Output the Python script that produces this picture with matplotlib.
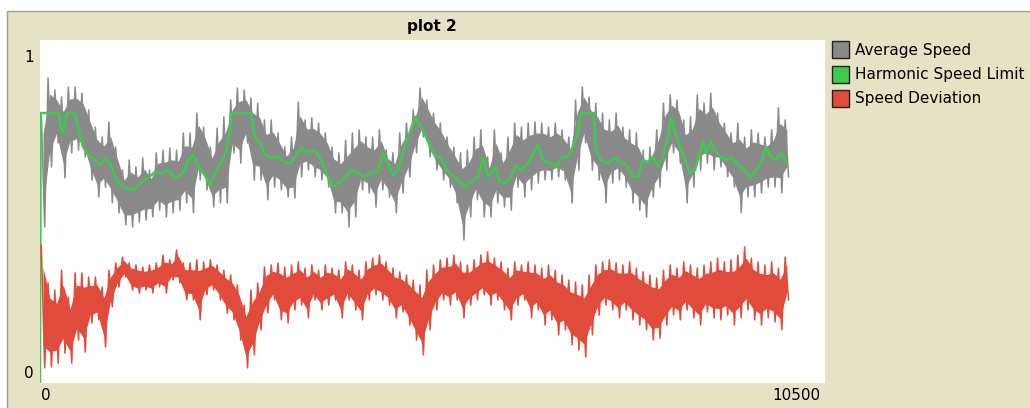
import numpy as np
import matplotlib
matplotlib.use("Agg")
import matplotlib.pyplot as plt
from matplotlib.patches import Rectangle

# Average Speed: upper / lower envelope of the noisy trace, one pair per sample bin
avg_hi = [0.787, 0.889, 0.854, 0.834, 0.863, 0.863, 0.845, 0.796, 0.746, 0.717, 0.761, 0.688, 0.621, 0.650, 0.630, 0.656, 0.621, 0.671, 0.679, 0.685, 0.679, 0.729,
          0.729, 0.787, 0.746, 0.688, 0.743, 0.776, 0.825, 0.860, 0.854, 0.831, 0.816, 0.767, 0.767, 0.729, 0.688, 0.717, 0.819, 0.767, 0.773, 0.758, 0.729, 0.688,
          0.671, 0.708, 0.729, 0.738, 0.717, 0.717, 0.738, 0.679, 0.671, 0.729, 0.758, 0.796, 0.860, 0.825, 0.787, 0.758, 0.717, 0.688, 0.671, 0.679, 0.717, 0.738,
          0.659, 0.738, 0.671, 0.717, 0.758, 0.746, 0.758, 0.761, 0.758, 0.746, 0.758, 0.738, 0.717, 0.825, 0.863, 0.834, 0.816, 0.787, 0.767, 0.787, 0.746, 0.738,
          0.729, 0.679, 0.688, 0.738, 0.816, 0.840, 0.825, 0.767, 0.776, 0.840, 0.816, 0.845, 0.787, 0.758, 0.729, 0.758, 0.717, 0.738, 0.729, 0.717, 0.738, 0.802, 0.767]
avg_lo = [0.455, 0.630, 0.700, 0.598, 0.671, 0.679, 0.659, 0.592, 0.542, 0.571, 0.525, 0.496, 0.461, 0.455, 0.469, 0.475, 0.484, 0.504, 0.484, 0.496, 0.504, 0.525,
          0.496, 0.592, 0.563, 0.513, 0.525, 0.525, 0.671, 0.641, 0.700, 0.592, 0.592, 0.534, 0.571, 0.563, 0.542, 0.539, 0.601, 0.621, 0.601, 0.592, 0.571, 0.496,
          0.496, 0.455, 0.484, 0.563, 0.554, 0.513, 0.563, 0.542, 0.496, 0.554, 0.601, 0.671, 0.717, 0.659, 0.621, 0.592, 0.571, 0.525, 0.417, 0.484, 0.534, 0.484,
          0.484, 0.525, 0.513, 0.504, 0.571, 0.542, 0.563, 0.583, 0.592, 0.592, 0.601, 0.592, 0.525, 0.621, 0.700, 0.621, 0.592, 0.525, 0.583, 0.592, 0.571, 0.525,
          0.504, 0.484, 0.542, 0.571, 0.621, 0.671, 0.641, 0.525, 0.571, 0.621, 0.641, 0.621, 0.630, 0.601, 0.571, 0.496, 0.542, 0.542, 0.554, 0.571, 0.571, 0.554, 0.601]

# Speed Deviation envelope
dev_hi = [0.402, 0.292, 0.271, 0.329, 0.251, 0.321, 0.321, 0.309, 0.309, 0.280, 0.329, 0.350, 0.367, 0.350, 0.344, 0.338, 0.344, 0.350, 0.373, 0.359, 0.388, 0.350,
          0.350, 0.359, 0.353, 0.359, 0.344, 0.329, 0.315, 0.286, 0.227, 0.271, 0.292, 0.338, 0.344, 0.350, 0.338, 0.344, 0.353, 0.335, 0.344, 0.329, 0.344, 0.335,
          0.329, 0.353, 0.344, 0.329, 0.353, 0.364, 0.373, 0.353, 0.335, 0.324, 0.315, 0.300, 0.286, 0.329, 0.344, 0.359, 0.364, 0.373, 0.353, 0.344, 0.359, 0.373,
          0.382, 0.364, 0.353, 0.335, 0.353, 0.344, 0.353, 0.344, 0.335, 0.344, 0.329, 0.315, 0.300, 0.294, 0.286, 0.315, 0.344, 0.353, 0.359, 0.350, 0.344, 0.353,
          0.335, 0.324, 0.315, 0.306, 0.329, 0.344, 0.335, 0.353, 0.344, 0.335, 0.344, 0.353, 0.364, 0.353, 0.359, 0.373, 0.397, 0.364, 0.353, 0.344, 0.353, 0.335, 0.367]
dev_lo = [0.044, 0.047, 0.058, 0.087, 0.058, 0.125, 0.090, 0.175, 0.184, 0.105, 0.222, 0.280, 0.309, 0.271, 0.262, 0.271, 0.262, 0.280, 0.262, 0.300, 0.292, 0.242,
          0.242, 0.184, 0.257, 0.271, 0.242, 0.204, 0.184, 0.125, 0.044, 0.082, 0.155, 0.204, 0.242, 0.184, 0.175, 0.213, 0.227, 0.190, 0.242, 0.213, 0.227, 0.242,
          0.190, 0.242, 0.213, 0.184, 0.242, 0.257, 0.242, 0.227, 0.190, 0.207, 0.169, 0.125, 0.082, 0.155, 0.213, 0.242, 0.227, 0.242, 0.190, 0.227, 0.242, 0.257,
          0.227, 0.242, 0.213, 0.184, 0.227, 0.242, 0.190, 0.213, 0.169, 0.184, 0.140, 0.155, 0.111, 0.096, 0.076, 0.140, 0.198, 0.227, 0.213, 0.190, 0.213, 0.184,
          0.169, 0.155, 0.125, 0.131, 0.169, 0.198, 0.184, 0.213, 0.190, 0.169, 0.207, 0.190, 0.184, 0.198, 0.169, 0.190, 0.213, 0.184, 0.169, 0.190, 0.178, 0.155, 0.242]

# Harmonic Speed Limit (tick, value)
limit_t = [0, 8, 254, 281, 308, 334, 361, 468, 508, 575, 642, 736, 803, 869, 936, 1003, 1070, 1137, 1217, 1284, 1351, 1445, 1538, 1619, 1712, 1806, 1886, 1953,
           1980, 2047, 2113, 2207, 2274, 2341, 2421, 2488, 2541, 2555, 2822, 2876, 2943, 3010, 3090, 3183, 3277, 3344, 3411, 3491, 3585, 3678, 3759, 3852, 3919,
           3986, 4080, 4160, 4254, 4347, 4427, 4521, 4588, 4655, 4722, 4789, 4882, 4949, 5016, 5083, 5150, 5217, 5284, 5364, 5457, 5551, 5631, 5698, 5765, 5859, 5926,
           5992, 6086, 6153, 6233, 6300, 6367, 6434, 6527, 6621, 6661, 6728, 6822, 6902, 6969, 7063, 7129, 7196, 7237, 7410, 7437, 7504, 7598, 7691, 7758, 7838, 7932,
           7999, 8066, 8133, 8199, 8266, 8333, 8400, 8440, 8494, 8561, 8627, 8694, 8761, 8828, 8868, 8908, 8975, 9042, 9109, 9176, 9243, 9336, 9430, 9497, 9564, 9644,
           9711, 9778, 9845, 9912, 9978]
limit_v = [0.0, 0.787, 0.787, 0.740, 0.729, 0.760, 0.787, 0.787, 0.746, 0.688, 0.665, 0.650, 0.636, 0.656, 0.641, 0.601, 0.577, 0.569, 0.563, 0.569, 0.583, 0.598, 0.615, 0.612, 0.621, 0.598, 0.606, 0.630,
           0.650, 0.665, 0.636, 0.606, 0.577, 0.612, 0.641, 0.673, 0.732, 0.787, 0.787, 0.717, 0.700, 0.665, 0.656, 0.659, 0.644, 0.641, 0.656, 0.685, 0.673, 0.679, 0.650, 0.601, 0.571,
           0.583, 0.601, 0.621, 0.612, 0.601, 0.615, 0.615, 0.671, 0.641, 0.606, 0.621, 0.694, 0.732, 0.776, 0.752, 0.723, 0.694, 0.665, 0.656, 0.615, 0.601, 0.583, 0.571, 0.586, 0.601, 0.659,
           0.601, 0.630, 0.586, 0.583, 0.601, 0.636, 0.621, 0.641, 0.679, 0.694, 0.650, 0.641, 0.630, 0.656, 0.659, 0.688, 0.729, 0.787, 0.787, 0.679, 0.650, 0.641, 0.656, 0.644, 0.636, 0.601,
           0.601, 0.650, 0.644, 0.659, 0.630, 0.659, 0.717, 0.773, 0.732, 0.688, 0.650, 0.612, 0.621, 0.673, 0.703, 0.671, 0.703, 0.673, 0.659, 0.650, 0.659, 0.636, 0.621, 0.601, 0.615, 0.641,
           0.688, 0.659, 0.650, 0.673, 0.644]

series_names = ["Average Speed", "Harmonic Speed Limit", "Speed Deviation"]
x_labels = ["0", "10500"]
y_labels = ["0", "1"]

W, H = 1030, 408
BEIGE = "#E6E2C4"
GRAY = "#8A8A8A"
GREEN = "#3DCB4C"
RED = "#E04B3C"


def zigzag(x, hi, lo):
    step = x[1] - x[0]
    xs = np.column_stack([x - step / 4, x + step / 4]).ravel()
    ys = np.column_stack([hi, lo]).ravel()
    return xs, ys


def noisy_band(ax, hi, lo, color):
    hi = np.array(hi)
    lo = np.array(lo)
    x = np.linspace(40, 9990, len(hi))
    span = hi - lo
    ax.fill_between(x, lo + 0.18 * span, hi - 0.18 * span, color=color, lw=0)
    xs, ys = zigzag(x, hi, lo)
    ax.plot(xs, ys, color=color, lw=1.1)


fig = plt.figure(figsize=(W / 100, H / 100), dpi=100)
fig.patch.set_facecolor("white")
fig.patches.append(Rectangle((7 / W, -0.01), 1, (H - 11) / H + 0.01, transform=fig.transFigure,
                             facecolor=BEIGE, edgecolor="#9C9C9C", lw=1, zorder=-5))

ax = fig.add_axes([40 / W, 25 / H, 785 / W, 343 / H])
ax.set_facecolor("white")
for s in ax.spines.values():
    s.set_visible(False)
ax.set_xticks([])
ax.set_yticks([])
ax.set_xlim(0, 10500)
ax.set_ylim(0, 1)

noisy_band(ax, avg_hi, avg_lo, GRAY)
ax.plot(limit_t, limit_v, color=GREEN, lw=1.8)
noisy_band(ax, dev_hi, dev_lo, RED)


def ftext(x, y, s, **kw):
    fig.text(x / W, 1 - y / H, s, **kw)


FS = 11
ftext(432, 27, "plot 2", ha="center", va="center", fontsize=FS, fontweight="bold")
ftext(34, 58, y_labels[1], ha="right", va="center", fontsize=FS)
ftext(34, 373, y_labels[0], ha="right", va="center", fontsize=FS)
ftext(41, 396, x_labels[0], ha="left", va="center", fontsize=FS)
ftext(820, 396, x_labels[1], ha="right", va="center", fontsize=FS)

for i, (name, col) in enumerate(zip(series_names, [GRAY, GREEN, RED])):
    y0 = 41 + i * 24.5
    fig.patches.append(Rectangle((832 / W, 1 - (y0 + 17) / H), 17 / W, 17 / H, transform=fig.transFigure,
                                 facecolor=col, edgecolor="#222222", lw=1))
    ftext(855, y0 + 9, name, ha="left", va="center", fontsize=FS)

fig.savefig("out.png", dpi=100)
